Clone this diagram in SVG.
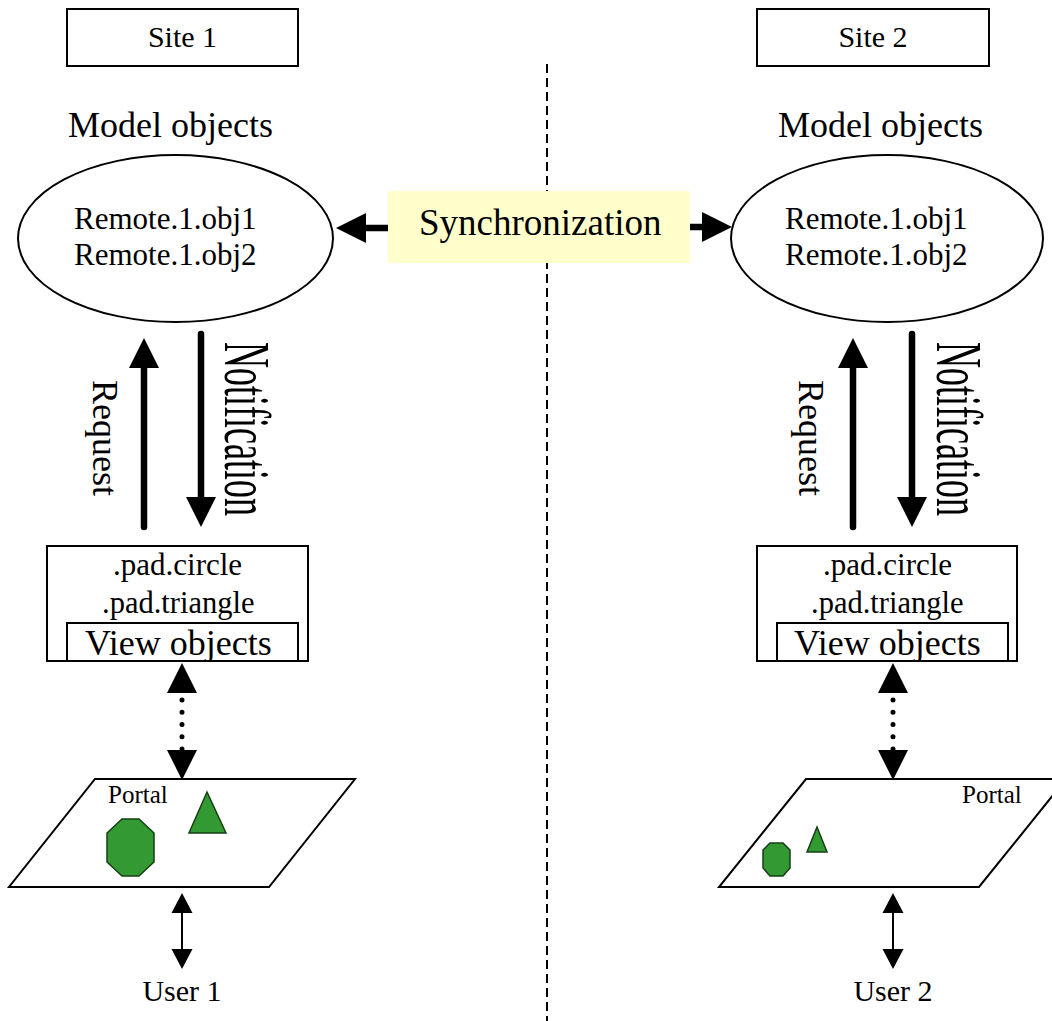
<svg xmlns="http://www.w3.org/2000/svg" width="1052" height="1021" viewBox="0 0 1052 1021">
<style>
text{font-family:"Liberation Serif","Times New Roman",serif;fill:#000}
.box{fill:#fff;stroke:#000;stroke-width:2}
.ell{fill:#fff;stroke:#000;stroke-width:2}
.shape{fill:#339933;stroke:#163f16;stroke-width:1.5}
.thick{stroke:#000;stroke-width:6.5;fill:none;stroke-linecap:round}
.dots{stroke:#000;stroke-width:5;fill:none;stroke-linecap:round;stroke-dasharray:0 12.25;stroke-dashoffset:-7}
.thin{stroke:#000;stroke-width:2;fill:none}
.divider{stroke:#000;stroke-width:2;stroke-dasharray:9 5;fill:none}
</style>
<defs>
<marker id="big" markerUnits="userSpaceOnUse" markerWidth="30" markerHeight="30" refX="0" refY="15" orient="auto-start-reverse" overflow="visible">
<path d="M0,0 L30,15 L0,30 Z" fill="#000"/>
</marker>
<marker id="small" markerUnits="userSpaceOnUse" markerWidth="20" markerHeight="22" refX="0" refY="11" orient="auto-start-reverse" overflow="visible">
<path d="M0,0.5 L20,11 L0,21.5 Z" fill="#000"/>
</marker>
<clipPath id="clipL"><rect x="67" y="623" width="231" height="38"/></clipPath>
<clipPath id="clipR"><rect x="777" y="623" width="231" height="38"/></clipPath>
</defs>

<line class="divider" x1="547" y1="64" x2="547" y2="1021"/>

<g id="connectors">
<line class="thick" x1="388" y1="228" x2="366" y2="228" marker-end="url(#big)"/>
<line class="thick" x1="690" y1="227" x2="702" y2="227" marker-end="url(#big)"/>
<line class="thick" x1="144" y1="527" x2="144" y2="368" marker-end="url(#big)"/>
<line class="thick" x1="201" y1="334" x2="201" y2="497" marker-end="url(#big)"/>
<line class="thick" x1="853" y1="527" x2="853" y2="368" marker-end="url(#big)"/>
<line class="thick" x1="912" y1="334" x2="912" y2="497" marker-end="url(#big)"/>
<line class="dots" x1="182" y1="693" x2="182" y2="752"/>
<line stroke="none" x1="182" y1="693" x2="182" y2="750" marker-start="url(#big)" marker-end="url(#big)"/>
<line class="dots" x1="893" y1="693" x2="893" y2="752"/>
<line stroke="none" x1="893" y1="693" x2="893" y2="750" marker-start="url(#big)" marker-end="url(#big)"/>
<line class="thin" x1="182" y1="913" x2="182" y2="949" marker-start="url(#small)" marker-end="url(#small)"/>
<line class="thin" x1="893" y1="913" x2="893" y2="949" marker-start="url(#small)" marker-end="url(#small)"/>
</g>

<g id="site1">
<rect class="box" x="67" y="9" width="231" height="57"/>
<text x="182.5" y="47" font-size="30" text-anchor="middle">Site 1</text>
</g>
<g id="site2">
<rect class="box" x="757" y="9" width="232" height="57"/>
<text x="873" y="47" font-size="30" text-anchor="middle">Site 2</text>
</g>

<g id="model1">
<text x="68" y="137" font-size="36">Model objects</text>
<ellipse class="ell" cx="175.5" cy="238.5" rx="157.5" ry="83.5"/>
<text x="74" y="229" font-size="31">Remote.1.obj1</text>
<text x="74" y="265" font-size="31">Remote.1.obj2</text>
</g>
<g id="model2">
<text x="778" y="137" font-size="36">Model objects</text>
<ellipse class="ell" cx="887" cy="238.5" rx="156" ry="83.5"/>
<text x="785" y="229" font-size="31">Remote.1.obj1</text>
<text x="785" y="265" font-size="31">Remote.1.obj2</text>
</g>

<g id="sync">
<rect x="388" y="191" width="302" height="72" fill="#ffffcc"/>
<text x="419" y="235" font-size="37">Synchronization</text>
</g>

<g id="labels1">
<text transform="translate(93,380) rotate(90)" font-size="36">Request</text>
<text transform="translate(225,342) rotate(90) scale(1,1.8)" font-size="36">Notification</text>
</g>
<g id="labels2">
<text transform="translate(799,380) rotate(90)" font-size="36">Request</text>
<text transform="translate(937,342) rotate(90) scale(1,1.8)" font-size="36">Notification</text>
</g>

<g id="view1">
<rect class="box" x="47" y="546" width="261" height="115"/>
<text x="113" y="575" font-size="31">.pad.circle</text>
<text x="102" y="613" font-size="30.5">.pad.triangle</text>
<rect class="box" x="67" y="623" width="231" height="38"/>
<text x="85" y="655" font-size="36" clip-path="url(#clipL)">View objects</text>
</g>
<g id="view2">
<rect class="box" x="757" y="546" width="260" height="115"/>
<text x="823" y="575" font-size="31">.pad.circle</text>
<text x="811" y="613" font-size="30.5">.pad.triangle</text>
<rect class="box" x="777" y="623" width="231" height="38"/>
<text x="794" y="655" font-size="36" clip-path="url(#clipR)">View objects</text>
</g>

<g id="portal1">
<polygon class="box" points="95,779 355,779 269,887 9,887"/>
<text x="108" y="803" font-size="25">Portal</text>
<polygon class="shape" points="122,819 139,819 154,833 154,862 139,876 122,876 107,862 107,833"/>
<polygon class="shape" points="207,792 226,833 189,833"/>
</g>
<g id="portal2">
<polygon class="box" points="806,779 1066,779 979,887 719,887"/>
<text x="962" y="803" font-size="25">Portal</text>
<polygon class="shape" points="770,843 783,843 790,850 790,868 783,876 770,876 763,868 763,850"/>
<polygon class="shape" points="817,827 827,852 807,852"/>
</g>

<g id="user1">
<text x="182" y="1001" font-size="30" text-anchor="middle">User 1</text>
</g>
<g id="user2">
<text x="893" y="1001" font-size="30" text-anchor="middle">User 2</text>
</g>
</svg>
